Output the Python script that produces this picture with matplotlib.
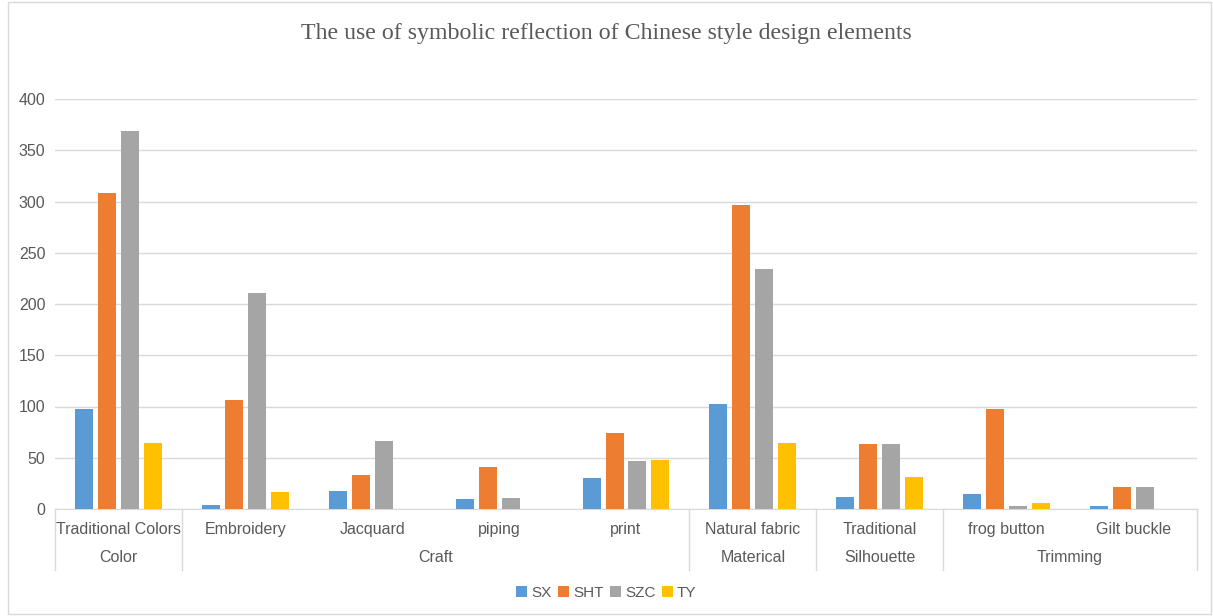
import numpy as np
import matplotlib.pyplot as plt
import matplotlib.transforms as mtransforms

plt.rcParams['font.family'] = ['Liberation Sans', 'DejaVu Sans']

# sub categories and their groups
categories = ['Traditional Colors', 'Embroidery', 'Jacquard', 'piping', 'print',
              'Natural fabric', 'Traditional', 'frog button', 'Gilt buckle']
groups = ['Color', 'Craft', 'Materical', 'Silhouette', 'Trimming']
group_sizes = [1, 4, 1, 1, 2]

sx = [98, 4, 18, 10, 30, 102, 12, 15, 3]
sht = [308, 106, 33, 41, 74, 297, 63, 98, 21]
szc = [369, 211, 66, 11, 47, 234, 63, 3, 21]
ty = [64, 17, 0, 0, 48, 64, 31, 6, 0]

series = {'SX': sx, 'SHT': sht, 'SZC': szc, 'TY': ty}
colors = ['#5B9BD5', '#ED7D31', '#A5A5A5', '#FFC000']

fig = plt.figure(figsize=(12.13, 6.16), dpi=100)
ax = fig.add_axes([55/1213, 107/616, 1142/1213, 410/616])

x = np.arange(len(categories))
step = 0.181
w = 0.142
for i, (name, vals) in enumerate(series.items()):
    ax.bar(x + (i - 1.5)*step, vals, w, color=colors[i], label=name, zorder=3)

ax.set_xlim(-0.5, len(categories) - 0.5)
ax.set_ylim(0, 400)
ax.set_yticks(np.arange(0, 401, 50))
ax.yaxis.grid(True, color='#d9d9d9', lw=1)
ax.set_axisbelow(True)
for s in ['top', 'right', 'left']:
    ax.spines[s].set_visible(False)
ax.spines['bottom'].set_color('#d9d9d9')
ax.tick_params(axis='y', length=0, labelsize=11.5, labelcolor='#595959', pad=7)
ax.tick_params(axis='x', length=0)
ax.set_xticks([])

# two level category axis
trans = mtransforms.blended_transform_factory(ax.transData, ax.transAxes)
for i, c in enumerate(categories):
    ax.text(i, -0.05, c, transform=trans, ha='center', va='center',
            fontsize=11.5, color='#595959')
start = -0.5
bounds = [start]
for g, n in zip(groups, group_sizes):
    ax.text(start + n/2, -0.118, g, transform=trans, ha='center', va='center',
            fontsize=11.5, color='#595959')
    start += n
    bounds.append(start)
for b in bounds:
    ax.plot([b, b], [0, -0.148], transform=trans, color='#d9d9d9', lw=1, clip_on=False)

fig.text(0.5, 1 - 33/616, 'The use of symbolic reflection of Chinese style design elements',
         ha='center', va='center', fontsize=17.2, color='#595959', family='Liberation Serif')

fig.legend(loc='center', bbox_to_anchor=(0.5, 1 - 593/616), ncol=4, frameon=False,
           handlelength=0.7, handleheight=0.7, handletextpad=0.3, columnspacing=0.4,
           fontsize=11, labelcolor='#595959')

# chart border
fig.patches.append(plt.Rectangle((8/1213, 0.003), 1203/1213, 0.994, transform=fig.transFigure,
                                 fill=False, edgecolor='#d9d9d9', lw=1))

fig.savefig('out.png')
